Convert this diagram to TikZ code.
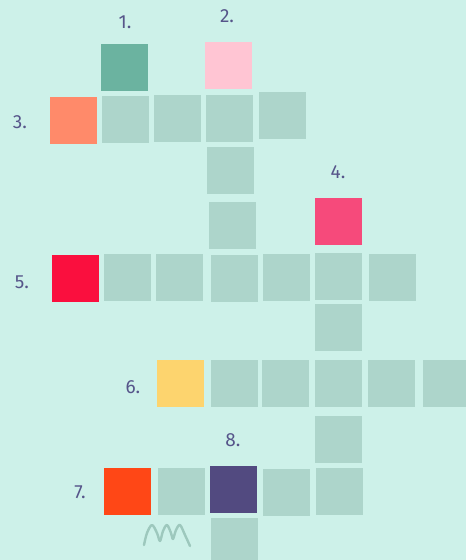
\documentclass[tikz,border=0pt]{standalone}
\usepackage{fontspec}
\setsansfont{Fira Sans}
\usepackage{xcolor}
\usepackage{tikz}

\definecolor{bgmint}{HTML}{CDF1E9}
\definecolor{cellgrey}{HTML}{ADD5CB}
\definecolor{squigcol}{HTML}{9DC8BD}
\definecolor{numcol}{HTML}{56558A}
\definecolor{c1green}{HTML}{6BB3A0}
\definecolor{c2pink}{HTML}{FFC5D3}
\definecolor{c3orange}{HTML}{FF8A6A}
\definecolor{c4rose}{HTML}{F64A7B}
\definecolor{c5red}{HTML}{FA0F3E}
\definecolor{c6yellow}{HTML}{FDD46E}
\definecolor{c7flame}{HTML}{FF4716}
\definecolor{c8purple}{HTML}{524A80}

\tikzset{
  cell/.style={minimum width=47pt, minimum height=47pt, inner sep=0pt, fill=cellgrey},
  start/.style={cell, fill=#1},
  num/.style={text=numcol, font=\sffamily\fontsize{19}{22}\selectfont, inner sep=0pt},
  squiggle/.style={draw=squigcol, line width=2.4pt, line cap=round, line join=round}
}

\begin{document}
\begin{tikzpicture}[x=1pt, y=-1pt]
			% Fondo
			\fill[bgmint] (0,0) rectangle (466,560);
			\useasboundingbox (0,0) rectangle (466,560);
			\clip (0,0) rectangle (466,560);
			
			% Numeros
			\node[num] (n1) at (125,22) {1.};
			\node[num] (n2) at (227,16) {2.};
			\node[num] (n3) at (20,122) {3.};
			\node[num] (n4) at (338,172) {4.};
			\node[num] (n5) at (22,282) {5.};
			\node[num] (n6) at (133,387) {6.};
			\node[num] (n7) at (80,492) {7.};
			\node[num] (n8) at (233,440) {8.};
			
			% Palabras 1 y 2 (arriba)
			\node[start=c1green] (s1) at (124.5,67) {};
			\node[start=c2pink] (s2) at (228,65) {};
			
			% Palabra 3
			\node[start=c3orange] (s3) at (73.5,120) {};
			\node[cell] (r3a) at (125.5,119) {};
			\node[cell] (r3b) at (177.5,118) {};
			\node[cell] (r3c) at (229.5,118) {};
			\node[cell] (r3d) at (282.5,115) {};
			
			% Columna 2
			\node[cell] (k2a) at (230.5,170.5) {};
			\node[cell] (k2b) at (232,225) {};
			
			% Palabra 4
			\node[start=c4rose] (s4) at (338.5,221.5) {};
			
			% Palabra 5
			\node[start=c5red] (s5) at (75.5,278) {};
			\node[cell] (r5a) at (127.5,277) {};
			\node[cell] (r5b) at (179,277) {};
			\node[cell] (r5c) at (234.5,278) {};
			\node[cell] (r5d) at (286,277) {};
			\node[cell] (r5e) at (338.5,276) {};
			\node[cell] (r5f) at (392.5,277) {};
			
			% Columna 4
			\node[cell] (k4a) at (338.5,327) {};
			
			% Palabra 6
			\node[start=c6yellow] (s6) at (180.5,383) {};
			\node[cell] (r6a) at (234.5,383) {};
			\node[cell] (r6b) at (285.5,383) {};
			\node[cell] (r6c) at (338,383) {};
			\node[cell] (r6d) at (391,383) {};
			\node[cell] (r6e) at (446.5,383) {};
			
			% Columna 4 (abajo)
			\node[cell] (k4b) at (338,439.5) {};
			
			% Palabra 7 y 8
			\node[start=c7flame] (s7) at (127,491.5) {};
			\node[cell] (r7a) at (181,491.5) {};
			\node[start=c8purple] (s8) at (233,489) {};
			\node[cell] (r7b) at (286,492) {};
			\node[cell] (r7c) at (339,491) {};
			\node[cell] (k8a) at (234.5,541) {};
			
			% Garabato
			\draw[squiggle] plot[smooth, tension=0.55] coordinates {(144,545) (147,533) (152,525) (157,533) (160,541) (163,531) (167,525) (171,533) (173,539) (176,530) (180,525) (185,535) (190,546)};
\end{tikzpicture}
\end{document}
